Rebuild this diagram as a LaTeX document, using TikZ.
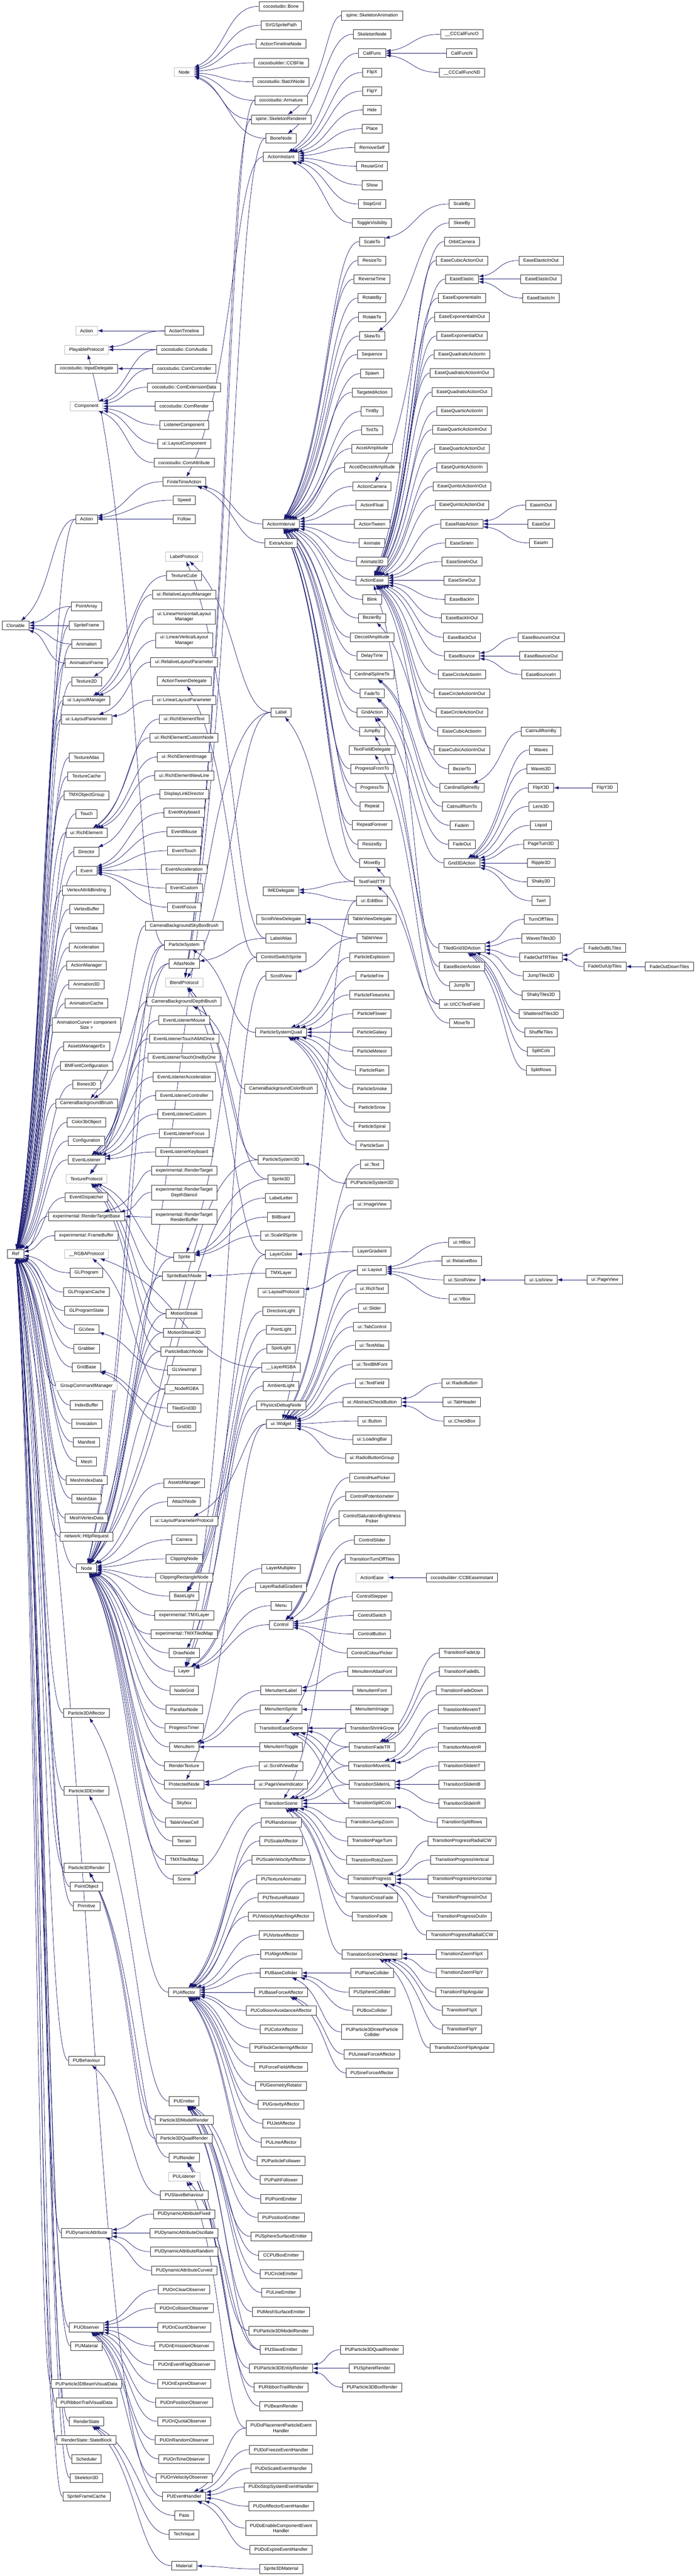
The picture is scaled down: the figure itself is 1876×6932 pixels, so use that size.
\documentclass[tikz,border=0pt]{standalone}
\usepackage{fontspec}
\setmainfont{Liberation Sans}
\usetikzlibrary{arrows.meta}
\definecolor{navy}{HTML}{191970}
\definecolor{graybox}{HTML}{BFBFBF}
\definecolor{boxline}{HTML}{333333}
\newcommand{\dfont}{\fontsize{12.4}{14.4}\selectfont}
\pgfdeclarelayer{bg}
\pgfsetlayers{bg,main}
\tikzset{
 cls/.style={draw=boxline, fill=white, line width=1pt, inner xsep=12pt, inner ysep=1pt, minimum height=24pt, font=\dfont, align=center},
 ucls/.style={cls, draw=graybox},
 two/.style={minimum height=40pt},
 inhs/.style={draw=navy, line width=1pt, {Latex[length=13pt,width=9pt]}-},
}
\def\colA{42}\def\colB{233}\def\colC{496}\def\colD{757}\def\colE{1002}\def\colF{1244}\def\colG{1457}\def\colH{1629}\def\colI{1803}
\newcommand{\kids}[2]{%
 \foreach \kk in {#2}{%
   \path (#1.east); \pgfgetlastxy{\ex}{\ey}%
   \path (\kk.west); \pgfgetlastxy{\wx}{\wy}%
   \pgfmathsetlengthmacro{\mx}{\ex+0.5*(\wx-\ex)}%
   \pgfmathsetlengthmacro{\my}{\ey+0.3*(\wy-\ey)}%
   \draw[inhs] (#1) .. controls (\mx,\my) and (\mx,\wy) .. (\kk.west);
 }}
\begin{document}
\begin{tikzpicture}[x=1pt,y=-1pt]
\useasboundingbox (0,0) rectangle (1876,6932);
\begin{pgfonlayer}{bg}\fill[white] (0,0) rectangle (1876,6932);\end{pgfonlayer}
% ---------- column A
\node[cls] (clonable) at (\colA,1683) {Clonable};
\node[cls] (ref) at (\colA,3374) {Ref};
% ---------- column B
\node[ucls] (actionG) at (\colB,890) {Action};
\node[ucls] (playable) at (\colB,941) {PlayableProtocol};
\node[cls] (inputdel) at (\colB,992) {cocostudio::InputDelegate};
\node[ucls] (componentG) at (\colB,1093) {Component};
\node[cls] (action) at (\colB,1397) {Action};
\node[cls] (pointarray) at (\colB,1632) {PointArray};
\node[cls] (spriteframe) at (\colB,1683) {SpriteFrame};
\node[cls] (animation) at (\colB,1733) {Animation};
\node[cls] (animframe) at (\colB,1784) {AnimationFrame};
\node[cls] (texture2d) at (\colB,1834) {Texture2D};
\node[cls] (layoutmgr) at (\colB,1885) {ui::LayoutManager};
\node[cls] (layoutparam) at (\colB,1936) {ui::LayoutParameter};
\node[cls] (textureatlas) at (\colB,2038) {TextureAtlas};
\node[cls] (texturecache) at (\colB,2089) {TextureCache};
\node[cls] (tmxobjgroup) at (\colB,2140) {TMXObjectGroup};
\node[cls] (touch) at (\colB,2190) {Touch};
\node[cls] (richelement) at (\colB,2241) {ui::RichElement};
\node[cls] (director) at (\colB,2292) {Director};
\node[cls] (event) at (\colB,2343) {Event};
\node[cls] (vab) at (\colB,2396) {VertexAttribBinding};
\node[cls] (vbuffer) at (\colB,2446) {VertexBuffer};
\node[cls] (vdata) at (\colB,2497) {VertexData};
\node[cls] (accel) at (\colB,2549) {Acceleration};
\node[cls] (actionmgr) at (\colB,2598) {ActionManager};
\node[cls] (anim3d) at (\colB,2649) {Animation3D};
\node[cls] (animcache) at (\colB,2700) {AnimationCache};
\node[cls,two] (animcurve) at (\colB,2758) {AnimationCurve< component\\Size >};
\node[cls] (assetsmgrex) at (\colB,2816) {AssetsManagerEx};
\node[cls] (bmfontconf) at (\colB,2868) {BMFontConfiguration};
\node[cls] (bones3d) at (\colB,2918) {Bones3D};
\node[cls] (cambgbrush) at (\colB,2969) {CameraBackgroundBrush};
\node[cls] (color3b) at (\colB,3020) {Color3bObject};
\node[cls] (configuration) at (\colB,3070) {Configuration};
\node[cls] (eventlistener) at (\colB,3121) {EventListener};
\node[ucls] (textureprot) at (\colB,3172) {TextureProtocol};
\node[cls] (eventdispatcher) at (\colB,3222) {EventDispatcher};
\node[cls] (rtbase) at (\colB,3273) {experimental::RenderTargetBase};
\node[cls] (framebuffer) at (\colB,3325) {experimental::FrameBuffer};
\node[ucls] (rgbaprot) at (\colB,3374) {\_\_RGBAProtocol};
\node[cls] (glprogram) at (\colB,3425) {GLProgram};
\node[cls] (glprogcache) at (\colB,3477) {GLProgramCache};
\node[cls] (glprogstate) at (\colB,3527) {GLProgramState};
\node[cls] (glview) at (\colB,3577) {GLView};
\node[cls] (grabber) at (\colB,3629) {Grabber};
\node[cls] (gridbase) at (\colB,3679) {GridBase};
\node[ucls] (groupcmd) at (\colB,3729) {GroupCommandManager};
\node[cls] (indexbuffer) at (\colB,3781) {IndexBuffer};
\node[cls] (invocation) at (\colB,3831) {Invocation};
\node[cls] (manifest) at (\colB,3881) {Manifest};
\node[cls] (mesh) at (\colB,3933) {Mesh};
\node[cls] (meshindex) at (\colB,3983) {MeshIndexData};
\node[cls] (meshskin) at (\colB,4033) {MeshSkin};
\node[cls] (meshvertex) at (\colB,4085) {MeshVertexData};
\node[cls] (httprequest) at (\colB,4135) {network::HttpRequest};
\node[cls] (node) at (\colB,4220) {Node};
\node[cls] (p3daffector) at (\colB,4610) {Particle3DAffector};
\node[cls] (p3demitter) at (\colB,4819) {Particle3DEmitter};
\node[cls] (p3drender) at (\colB,5026) {Particle3DRender};
\node[cls] (pointobject) at (\colB,5077) {PointObject};
\node[cls] (primitive) at (\colB,5129) {Primitive};
\node[cls] (pubehaviour) at (\colB,5545) {PUBehaviour};
\node[cls] (pudynattr) at (\colB,6009) {PUDynamicAttribute};
\node[cls] (puobserver) at (\colB,6263) {PUObserver};
\node[cls] (pumaterial) at (\colB,6313) {PUMaterial};
\node[cls] (pubeamvis) at (\colB,6415) {PUParticle3DBeamVisualData};
\node[cls] (puribbonvis) at (\colB,6465) {PURibbonTrailVisualData};
\node[cls] (renderstate) at (\colB,6516) {RenderState};
\node[cls] (stateblock) at (\colB,6566) {RenderState::StateBlock};
\node[cls] (scheduler) at (\colB,6617) {Scheduler};
\node[cls] (skeleton3d) at (\colB,6668) {Skeleton3D};
\node[cls] (spriteframecache) at (\colB,6718) {SpriteFrameCache};
% ---------- column C
\node[ucls] (nodeG) at (\colC,194) {Node};
\node[cls] (actiontimeline) at (\colC,890) {ActionTimeline};
\node[cls] (comaudio) at (\colC,941) {cocostudio::ComAudio};
\node[cls] (comcontroller) at (\colC,992) {cocostudio::ComController};
\node[cls] (comextdata) at (\colC,1042) {cocostudio::ComExtensionData};
\node[cls] (comrender) at (\colC,1093) {cocostudio::ComRender};
\node[cls] (listenercomp) at (\colC,1144) {ListenerComponent};
\node[cls] (layoutcomp) at (\colC,1194) {ui::LayoutComponent};
\node[cls] (comattribute) at (\colC,1245) {cocostudio::ComAttribute};
\node[cls] (finitetime) at (\colC,1296) {FiniteTimeAction};
\node[cls] (speed) at (\colC,1346) {Speed};
\node[cls] (follow) at (\colC,1397) {Follow};
\node[ucls] (labelprot) at (\colC,1498) {LabelProtocol};
\node[cls] (texturecube) at (\colC,1549) {TextureCube};
\node[cls] (relmgr) at (\colC,1600) {ui::RelativeLayoutManager};
\node[cls,two] (linhmgr) at (\colC,1660) {ui::LinearHorizontalLayout\\Manager};
\node[cls,two] (linvmgr) at (\colC,1723) {ui::LinearVerticalLayout\\Manager};
\node[cls] (relparam) at (\colC,1782) {ui::RelativeLayoutParameter};
\node[cls] (actiontweendel) at (\colC,1833) {ActionTweenDelegate};
\node[cls] (linparam) at (\colC,1884) {ui::LinearLayoutParameter};
\node[cls] (retext) at (\colC,1935) {ui::RichElementText};
\node[cls] (recustom) at (\colC,1985) {ui::RichElementCustomNode};
\node[cls] (reimage) at (\colC,2037) {ui::RichElementImage};
\node[cls] (renewline) at (\colC,2087) {ui::RichElementNewLine};
\node[cls] (displaylink) at (\colC,2137) {DisplayLinkDirector};
\node[cls] (evkeyboard) at (\colC,2187) {EventKeyboard};
\node[cls] (evmouse) at (\colC,2238) {EventMouse};
\node[cls] (evtouch) at (\colC,2289) {EventTouch};
\node[cls] (evaccel) at (\colC,2339) {EventAcceleration};
\node[cls] (evcustom) at (\colC,2390) {EventCustom};
\node[cls] (evfocus) at (\colC,2441) {EventFocus};
\node[cls] (skyboxbrush) at (\colC,2491) {CameraBackgroundSkyBoxBrush};
\node[cls] (particlesystem) at (\colC,2543) {ParticleSystem};
\node[cls] (atlasnode) at (\colC,2593) {AtlasNode};
\node[ucls] (blendprot) at (\colC,2644) {BlendProtocol};
\node[cls] (depthbrush) at (\colC,2695) {CameraBackgroundDepthBrush};
\node[cls] (elmouse) at (\colC,2745) {EventListenerMouse};
\node[cls] (eltouchall) at (\colC,2795) {EventListenerTouchAllAtOnce};
\node[cls] (eltouchone) at (\colC,2846) {EventListenerTouchOneByOne};
\node[cls] (elaccel) at (\colC,2898) {EventListenerAcceleration};
\node[cls] (elcontroller) at (\colC,2948) {EventListenerController};
\node[cls] (elcustom) at (\colC,2998) {EventListenerCustom};
\node[cls] (elfocus) at (\colC,3050) {EventListenerFocus};
\node[cls] (elkeyboard) at (\colC,3100) {EventListenerKeyboard};
\node[cls] (rendertarget) at (\colC,3150) {experimental::RenderTarget};
\node[cls,two] (rtdepth) at (\colC,3209) {experimental::RenderTarget\\DepthStencil};
\node[cls,two] (rtbuffer) at (\colC,3275) {experimental::RenderTarget\\RenderBuffer};
\node[cls] (sprite) at (\colC,3383) {Sprite};
\node[cls] (spritebatch) at (\colC,3434) {SpriteBatchNode};
\node[cls] (motionstreak) at (\colC,3535) {MotionStreak};
\node[cls] (motionstreak3d) at (\colC,3586) {MotionStreak3D};
\node[cls] (particlebatch) at (\colC,3637) {ParticleBatchNode};
\node[cls] (glviewimpl) at (\colC,3687) {GLViewImpl};
\node[cls] (nodergba) at (\colC,3738) {\_\_NodeRGBA};
\node[cls] (tiledgrid3d) at (\colC,3789) {TiledGrid3D};
\node[cls] (grid3d) at (\colC,3839) {Grid3D};
\node[cls] (assetsmgr) at (\colC,3991) {AssetsManager};
\node[cls] (attachnode) at (\colC,4041) {AttachNode};
\node[cls] (layoutparamprot) at (\colC,4093) {ui::LayoutParameterProtocol};
\node[cls] (camera) at (\colC,4143) {Camera};
\node[cls] (clipping) at (\colC,4195) {ClippingNode};
\node[cls] (cliprect) at (\colC,4245) {ClippingRectangleNode};
\node[cls] (baselight) at (\colC,4295) {BaseLight};
\node[cls] (exptmxlayer) at (\colC,4347) {experimental::TMXLayer};
\node[cls] (exptmxmap) at (\colC,4397) {experimental::TMXTiledMap};
\node[cls] (drawnode) at (\colC,4448) {DrawNode};
\node[cls] (layer) at (\colC,4498) {Layer};
\node[cls] (nodegrid) at (\colC,4549) {NodeGrid};
\node[cls] (parallax) at (\colC,4600) {ParallaxNode};
\node[cls] (progresstimer) at (\colC,4650) {ProgressTimer};
\node[cls] (menuitem) at (\colC,4701) {MenuItem};
\node[cls] (rendertexture) at (\colC,4752) {RenderTexture};
\node[cls] (protectednode) at (\colC,4802) {ProtectedNode};
\node[cls] (skybox) at (\colC,4853) {Skybox};
\node[cls] (tableviewcell) at (\colC,4904) {TableViewCell};
\node[cls] (terrain) at (\colC,4954) {Terrain};
\node[cls] (tmxtiledmap) at (\colC,5005) {TMXTiledMap};
\node[cls] (scene) at (\colC,5057) {Scene};
\node[cls] (puaffector) at (\colC,5361) {PUAffector};
\node[cls] (puemitter) at (\colC,5654) {PUEmitter};
\node[cls] (p3dmodelrender) at (\colC,5705) {Particle3DModelRender};
\node[cls] (p3dquadrender) at (\colC,5755) {Particle3DQuadRender};
\node[cls] (purender) at (\colC,5806) {PURender};
\node[ucls] (pulistener) at (\colC,5857) {PUListener};
\node[cls] (puslavebeh) at (\colC,5907) {PUSlaveBehaviour};
\node[cls] (pudafixed) at (\colC,5958) {PUDynamicAttributeFixed};
\node[cls] (pudaosc) at (\colC,6009) {PUDynamicAttributeOscillate};
\node[cls] (pudarandom) at (\colC,6059) {PUDynamicAttributeRandom};
\node[cls] (pudacurved) at (\colC,6110) {PUDynamicAttributeCurved};
\node[cls] (puonclear) at (\colC,6161) {PUOnClearObserver};
\node[cls] (puoncollision) at (\colC,6211) {PUOnCollisionObserver};
\node[cls] (puoncount) at (\colC,6263) {PUOnCountObserver};
\node[cls] (puonemission) at (\colC,6313) {PUOnEmissionObserver};
\node[cls] (puoneventflag) at (\colC,6364) {PUOnEventFlagObserver};
\node[cls] (puonexpire) at (\colC,6415) {PUOnExpireObserver};
\node[cls] (puonposition) at (\colC,6465) {PUOnPositionObserver};
\node[cls] (puonquota) at (\colC,6516) {PUOnQuotaObserver};
\node[cls] (puonrandom) at (\colC,6566) {PUOnRandomObserver};
\node[cls] (puontime) at (\colC,6617) {PUOnTimeObserver};
\node[cls] (puonvelocity) at (\colC,6668) {PUOnVelocityObserver};
\node[cls] (pueventhandler) at (\colC,6718) {PUEventHandler};
\node[cls] (pass) at (\colC,6769) {Pass};
\node[cls] (technique) at (\colC,6820) {Technique};
\node[cls] (material) at (\colC,6904) {Material};
% ---------- column D
\node[cls] (bone) at (\colD,17) {cocostudio::Bone};
\node[cls] (svgsprite) at (\colD,68) {SVGSpritePath};
\node[cls] (atlnode) at (\colD,118) {ActionTimelineNode};
\node[cls] (ccbfile) at (\colD,169) {cocosbuilder::CCBFile};
\node[cls] (batchnodecs) at (\colD,220) {cocostudio::BatchNode};
\node[cls] (armature) at (\colD,270) {cocostudio::Armature};
\node[cls] (skelrenderer) at (\colD,321) {spine::SkeletonRenderer};
\node[cls] (bonenode) at (\colD,372) {BoneNode};
\node[cls] (actioninstant) at (\colD,422) {ActionInstant};
\node[cls] (actioninterval) at (\colD,1410) {ActionInterval};
\node[cls] (extraaction) at (\colD,1461) {ExtraAction};
\node[cls] (label) at (\colD,1917) {Label};
\node[cls] (imedelegate) at (\colD,2398) {IMEDelegate};
\node[cls] (svdelegate) at (\colD,2474) {ScrollViewDelegate};
\node[cls] (labelatlas) at (\colD,2525) {LabelAtlas};
\node[cls] (ctrlswitchsprite) at (\colD,2576) {ControlSwitchSprite};
\node[cls] (scrollview) at (\colD,2626) {ScrollView};
\node[cls] (psquad) at (\colD,2778) {ParticleSystemQuad};
\node[cls] (colorbrush) at (\colD,2930) {CameraBackgroundColorBrush};
\node[cls] (ps3d) at (\colD,3121) {ParticleSystem3D};
\node[cls] (sprite3d) at (\colD,3173) {Sprite3D};
\node[cls] (labelletter) at (\colD,3224) {LabelLetter};
\node[cls] (billboard) at (\colD,3275) {BillBoard};
\node[cls] (scale9) at (\colD,3325) {ui::Scale9Sprite};
\node[cls] (layercolor) at (\colD,3376) {LayerColor};
\node[cls] (tmxlayer) at (\colD,3426) {TMXLayer};
\node[cls] (layoutprot) at (\colD,3478) {ui::LayoutProtocol};
\node[cls] (dirlight) at (\colD,3528) {DirectionLight};
\node[cls] (pointlight) at (\colD,3578) {PointLight};
\node[cls] (spotlight) at (\colD,3629) {SpotLight};
\node[cls] (layerrgba) at (\colD,3680) {\_\_LayerRGBA};
\node[cls] (ambientlight) at (\colD,3730) {AmbientLight};
\node[cls] (physdebug) at (\colD,3782) {PhysicsDebugNode};
\node[cls] (widget) at (\colD,3832) {ui::Widget};
\node[cls] (layermultiplex) at (\colD,4221) {LayerMultiplex};
\node[cls] (layerradial) at (\colD,4271) {LayerRadialGradient};
\node[cls] (menu) at (\colD,4321) {Menu};
\node[cls] (control) at (\colD,4372) {Control};
\node[cls] (menuitemlabel) at (\colD,4549) {MenuItemLabel};
\node[cls] (menuitemsprite) at (\colD,4600) {MenuItemSprite};
\node[cls] (transeasescene) at (\colD,4650) {TransitionEaseScene};
\node[cls] (menuitemtoggle) at (\colD,4701) {MenuItemToggle};
\node[cls] (scrollviewbar) at (\colD,4752) {ui::ScrollViewBar};
\node[cls] (pageviewind) at (\colD,4802) {ui::PageViewIndicator};
\node[cls] (transscene) at (\colD,4853) {TransitionScene};
\node[cls] (purandomiser) at (\colD,4904) {PURandomiser};
\node[cls] (puscaleaff) at (\colD,4954) {PUScaleAffector};
\node[cls] (puscalevel) at (\colD,5005) {PUScaleVelocityAffector};
\node[cls] (putexanim) at (\colD,5057) {PUTextureAnimator};
\node[cls] (putexrot) at (\colD,5106) {PUTextureRotator};
\node[cls] (puvelmatch) at (\colD,5157) {PUVelocityMatchingAffector};
\node[cls] (puvortex) at (\colD,5207) {PUVortexAffector};
\node[cls] (pualign) at (\colD,5259) {PUAlignAffector};
\node[cls] (pubasecollider) at (\colD,5309) {PUBaseCollider};
\node[cls] (pubaseforce) at (\colD,5361) {PUBaseForceAffector};
\node[cls] (pucollavoid) at (\colD,5410) {PUCollisionAvoidanceAffector};
\node[cls] (pucolor) at (\colD,5461) {PUColorAffector};
\node[cls] (puflock) at (\colD,5511) {PUFlockCenteringAffector};
\node[cls] (puforcefield) at (\colD,5562) {PUForceFieldAffector};
\node[cls] (pugeomrot) at (\colD,5613) {PUGeometryRotator};
\node[cls] (pugravity) at (\colD,5663) {PUGravityAffector};
\node[cls] (pujet) at (\colD,5714) {PUJetAffector};
\node[cls] (puline) at (\colD,5765) {PULineAffector};
\node[cls] (pufollower) at (\colD,5815) {PUParticleFollower};
\node[cls] (pupath) at (\colD,5866) {PUPathFollower};
\node[cls] (pupointem) at (\colD,5917) {PUPointEmitter};
\node[cls] (puposem) at (\colD,5967) {PUPositionEmitter};
\node[cls] (pusphereem) at (\colD,6018) {PUSphereSurfaceEmitter};
\node[cls] (ccpubox) at (\colD,6069) {CCPUBoxEmitter};
\node[cls] (pucircleem) at (\colD,6119) {PUCircleEmitter};
\node[cls] (pulineem) at (\colD,6169) {PULineEmitter};
\node[cls] (pumeshem) at (\colD,6221) {PUMeshSurfaceEmitter};
\node[cls] (pumodelrender) at (\colD,6272) {PUParticle3DModelRender};
\node[cls] (puslaveem) at (\colD,6323) {PUSlaveEmitter};
\node[cls] (puentityrender) at (\colD,6373) {PUParticle3DEntityRender};
\node[cls] (puribbonrender) at (\colD,6424) {PURibbonTrailRender};
\node[cls] (pubeamrender) at (\colD,6475) {PUBeamRender};
\node[cls,two] (pudoplacement) at (\colD,6534) {PUDoPlacementParticleEvent\\Handler};
\node[cls] (pudofreeze) at (\colD,6592) {PUDoFreezeEventHandler};
\node[cls] (pudoscale) at (\colD,6642) {PUDoScaleEventHandler};
\node[cls] (pudostop) at (\colD,6693) {PUDoStopSystemEventHandler};
\node[cls] (pudoaffector) at (\colD,6744) {PUDoAffectorEventHandler};
\node[cls,two] (pudoenable) at (\colD,6803) {PUDoEnableComponentEvent\\Handler};
\node[cls] (pudoexpire) at (\colD,6861) {PUDoExpireEventHandler};
\node[cls] (sprite3dmat) at (\colD,6913) {Sprite3DMaterial};
% ---------- column E
\node[cls] (skelanim) at (\colE,42) {spine::SkeletonAnimation};
\node[cls] (skelnode) at (\colE,92) {SkeletonNode};
\node[cls] (callfunc) at (\colE,143) {CallFunc};
\node[cls] (flipx) at (\colE,195) {FlipX};
\node[cls] (flipy) at (\colE,245) {FlipY};
\node[cls] (hide) at (\colE,296) {Hide};
\node[cls] (place) at (\colE,346) {Place};
\node[cls] (removeself) at (\colE,397) {RemoveSelf};
\node[cls] (reusegrid) at (\colE,447) {ReuseGrid};
\node[cls] (show) at (\colE,498) {Show};
\node[cls] (stopgrid) at (\colE,549) {StopGrid};
\node[cls] (togglevis) at (\colE,600) {ToggleVisibility};
\node[cls] (scaleto) at (\colE,650) {ScaleTo};
\node[cls] (resizeto) at (\colE,701) {ResizeTo};
\node[cls] (reversetime) at (\colE,751) {ReverseTime};
\node[cls] (rotateby) at (\colE,802) {RotateBy};
\node[cls] (rotateto) at (\colE,853) {RotateTo};
\node[cls] (skewto) at (\colE,904) {SkewTo};
\node[cls] (sequence) at (\colE,954) {Sequence};
\node[cls] (spawn) at (\colE,1005) {Spawn};
\node[cls] (targeted) at (\colE,1056) {TargetedAction};
\node[cls] (tintby) at (\colE,1107) {TintBy};
\node[cls] (tintto) at (\colE,1157) {TintTo};
\node[cls] (accelamp) at (\colE,1207) {AccelAmplitude};
\node[cls] (acceldeccel) at (\colE,1258) {AccelDeccelAmplitude};
\node[cls] (actioncamera) at (\colE,1309) {ActionCamera};
\node[cls] (actionfloat) at (\colE,1359) {ActionFloat};
\node[cls] (actiontween) at (\colE,1410) {ActionTween};
\node[cls] (animate) at (\colE,1461) {Animate};
\node[cls] (animate3d) at (\colE,1511) {Animate3D};
\node[cls] (actionease) at (\colE,1562) {ActionEase};
\node[cls] (blink) at (\colE,1613) {Blink};
\node[cls] (bezierby) at (\colE,1663) {BezierBy};
\node[cls] (deccelamp) at (\colE,1715) {DeccelAmplitude};
\node[cls] (delaytime) at (\colE,1765) {DelayTime};
\node[cls] (cardinalto) at (\colE,1815) {CardinalSplineTo};
\node[cls] (fadeto) at (\colE,1866) {FadeTo};
\node[cls] (gridaction) at (\colE,1917) {GridAction};
\node[cls] (jumpby) at (\colE,1968) {JumpBy};
\node[cls] (textfielddel) at (\colE,2018) {TextFieldDelegate};
\node[cls] (progressfromto) at (\colE,2069) {ProgressFromTo};
\node[cls] (progressto) at (\colE,2120) {ProgressTo};
\node[cls] (repeat) at (\colE,2170) {Repeat};
\node[cls] (repeatforever) at (\colE,2220) {RepeatForever};
\node[cls] (resizeby) at (\colE,2272) {ResizeBy};
\node[cls] (moveby) at (\colE,2322) {MoveBy};
\node[cls] (textfieldttf) at (\colE,2372) {TextFieldTTF};
\node[cls] (editbox) at (\colE,2424) {ui::EditBox};
\node[cls] (tvdelegate) at (\colE,2474) {TableViewDelegate};
\node[cls] (tableview) at (\colE,2524) {TableView};
\node[cls] (pexplosion) at (\colE,2576) {ParticleExplosion};
\node[cls] (pfire) at (\colE,2626) {ParticleFire};
\node[cls] (pfireworks) at (\colE,2677) {ParticleFireworks};
\node[cls] (pflower) at (\colE,2728) {ParticleFlower};
\node[cls] (pgalaxy) at (\colE,2778) {ParticleGalaxy};
\node[cls] (pmeteor) at (\colE,2829) {ParticleMeteor};
\node[cls] (prain) at (\colE,2880) {ParticleRain};
\node[cls] (psmoke) at (\colE,2930) {ParticleSmoke};
\node[cls] (psnow) at (\colE,2980) {ParticleSnow};
\node[cls] (pspiral) at (\colE,3032) {ParticleSpiral};
\node[cls] (psun) at (\colE,3082) {ParticleSun};
\node[cls] (uitext) at (\colE,3133) {ui::Text};
\node[cls] (pups3d) at (\colE,3184) {PUParticleSystem3D};
\node[cls] (imageview) at (\colE,3241) {ui::ImageView};
\node[cls] (layergradient) at (\colE,3368) {LayerGradient};
\node[cls] (uilayout) at (\colE,3418) {ui::Layout};
\node[cls] (richtext) at (\colE,3468) {ui::RichText};
\node[cls] (slider) at (\colE,3520) {ui::Slider};
\node[cls] (tabcontrol) at (\colE,3570) {ui::TabControl};
\node[cls] (textatlas) at (\colE,3620) {ui::TextAtlas};
\node[cls] (textbmfont) at (\colE,3672) {ui::TextBMFont};
\node[cls] (uitextfield) at (\colE,3722) {ui::TextField};
\node[cls] (abscheck) at (\colE,3773) {ui::AbstractCheckButton};
\node[cls] (button) at (\colE,3824) {ui::Button};
\node[cls] (loadingbar) at (\colE,3874) {ui::LoadingBar};
\node[cls] (radiogroup) at (\colE,3924) {ui::RadioButtonGroup};
\node[cls] (huepicker) at (\colE,3976) {ControlHuePicker};
\node[cls] (potentiometer) at (\colE,4026) {ControlPotentiometer};
\node[cls,two] (satbright) at (\colE,4086) {ControlSaturationBrightness\\Picker};
\node[cls] (ctrlslider) at (\colE,4144) {ControlSlider};
\node[cls] (turnofftiles) at (\colE,4195) {TransitionTurnOffTiles};
\node[ucls] (actioneaseG) at (\colE,4245) {ActionEase};
\node[cls] (stepper) at (\colE,4296) {ControlStepper};
\node[cls] (ctrlswitch) at (\colE,4347) {ControlSwitch};
\node[cls] (ctrlbutton) at (\colE,4397) {ControlButton};
\node[cls] (colourpicker) at (\colE,4448) {ControlColourPicker};
\node[cls] (miatlasfont) at (\colE,4498) {MenuItemAtlasFont};
\node[cls] (mifont) at (\colE,4549) {MenuItemFont};
\node[cls] (miimage) at (\colE,4600) {MenuItemImage};
\node[cls] (shrinkgrow) at (\colE,4650) {TransitionShrinkGrow};
\node[cls] (fadetr) at (\colE,4701) {TransitionFadeTR};
\node[cls] (moveinl) at (\colE,4752) {TransitionMoveInL};
\node[cls] (slideinl) at (\colE,4802) {TransitionSlideInL};
\node[cls] (splitcols) at (\colE,4853) {TransitionSplitCols};
\node[cls] (jumpzoom) at (\colE,4904) {TransitionJumpZoom};
\node[cls] (pageturn) at (\colE,4954) {TransitionPageTurn};
\node[cls] (rotozoom) at (\colE,5005) {TransitionRotoZoom};
\node[cls] (tprogress) at (\colE,5057) {TransitionProgress};
\node[cls] (crossfade) at (\colE,5106) {TransitionCrossFade};
\node[cls] (tfade) at (\colE,5157) {TransitionFade};
\node[cls] (sceneoriented) at (\colE,5259) {TransitionSceneOriented};
\node[cls] (puplane) at (\colE,5309) {PUPlaneCollider};
\node[cls] (pusphere) at (\colE,5361) {PUSphereCollider};
\node[cls] (pubox) at (\colE,5410) {PUBoxCollider};
\node[cls,two] (puinter) at (\colE,5468) {PUParticle3DInterParticle\\Collider};
\node[cls] (pulinearforce) at (\colE,5528) {PULinearForceAffector};
\node[cls] (pusineforce) at (\colE,5578) {PUSineForceAffector};
\node[cls] (puquadrender) at (\colE,6323) {PUParticle3DQuadRender};
\node[cls] (puspherrender) at (\colE,6373) {PUSphereRender};
\node[cls] (puboxrender) at (\colE,6424) {PUParticle3DBoxRender};
% ---------- column F
\node[cls] (callfunco) at (\colF,92) {\_\_CCCallFuncO};
\node[cls] (callfuncn) at (\colF,143) {CallFuncN};
\node[cls] (callfuncnd) at (\colF,195) {\_\_CCCallFuncND};
\node[cls] (scaleby) at (\colF,549) {ScaleBy};
\node[cls] (skewby) at (\colF,600) {SkewBy};
\node[cls] (orbitcamera) at (\colF,650) {OrbitCamera};
\node[cls] (ecubicout) at (\colF,701) {EaseCubicActionOut};
\node[cls] (eelastic) at (\colF,751) {EaseElastic};
\node[cls] (eexpin) at (\colF,802) {EaseExponentialIn};
\node[cls] (eexpinout) at (\colF,853) {EaseExponentialInOut};
\node[cls] (eexpout) at (\colF,904) {EaseExponentialOut};
\node[cls] (equadin) at (\colF,954) {EaseQuadraticActionIn};
\node[cls] (equadinout) at (\colF,1004) {EaseQuadraticActionInOut};
\node[cls] (equadout) at (\colF,1055) {EaseQuadraticActionOut};
\node[cls] (equartin) at (\colF,1106) {EaseQuarticActionIn};
\node[cls] (equartinout) at (\colF,1156) {EaseQuarticActionInOut};
\node[cls] (equartout) at (\colF,1207) {EaseQuarticActionOut};
\node[cls] (equintin) at (\colF,1258) {EaseQuinticActionIn};
\node[cls] (equintinout) at (\colF,1309) {EaseQuinticActionInOut};
\node[cls] (equintout) at (\colF,1359) {EaseQuinticActionOut};
\node[cls] (erate) at (\colF,1410) {EaseRateAction};
\node[cls] (esinein) at (\colF,1461) {EaseSineIn};
\node[cls] (esineinout) at (\colF,1511) {EaseSineInOut};
\node[cls] (esineout) at (\colF,1562) {EaseSineOut};
\node[cls] (ebackin) at (\colF,1613) {EaseBackIn};
\node[cls] (ebackinout) at (\colF,1663) {EaseBackInOut};
\node[cls] (ebackout) at (\colF,1715) {EaseBackOut};
\node[cls] (ebounce) at (\colF,1765) {EaseBounce};
\node[cls] (ecirclein) at (\colF,1815) {EaseCircleActionIn};
\node[cls] (ecircleinout) at (\colF,1866) {EaseCircleActionInOut};
\node[cls] (ecircleout) at (\colF,1917) {EaseCircleActionOut};
\node[cls] (ecubicin) at (\colF,1968) {EaseCubicActionIn};
\node[cls] (ecubicinout) at (\colF,2018) {EaseCubicActionInOut};
\node[cls] (bezierto) at (\colF,2069) {BezierTo};
\node[cls] (cardinalby) at (\colF,2120) {CardinalSplineBy};
\node[cls] (catmullto) at (\colF,2170) {CatmullRomTo};
\node[cls] (fadein) at (\colF,2221) {FadeIn};
\node[cls] (fadeout) at (\colF,2272) {FadeOut};
\node[cls] (grid3daction) at (\colF,2322) {Grid3DAction};
\node[cls] (tiledgrid3daction) at (\colF,2551) {TiledGrid3DAction};
\node[cls] (ebezier) at (\colF,2601) {EaseBezierAction};
\node[cls] (jumpto) at (\colF,2653) {JumpTo};
\node[cls] (uicctextfield) at (\colF,2702) {ui::UICCTextField};
\node[cls] (moveto) at (\colF,2753) {MoveTo};
\node[cls] (hbox) at (\colF,3343) {ui::HBox};
\node[cls] (relativebox) at (\colF,3393) {ui::RelativeBox};
\node[cls] (uiscrollview) at (\colF,3444) {ui::ScrollView};
\node[cls] (vbox) at (\colF,3495) {ui::VBox};
\node[cls] (radiobutton) at (\colF,3722) {ui::RadioButton};
\node[cls] (tabheader) at (\colF,3773) {ui::TabHeader};
\node[cls] (checkbox) at (\colF,3824) {ui::CheckBox};
\node[cls] (ccbeaseinstant) at (\colF,4245) {cocosbuilder::CCBEaseInstant};
\node[cls] (fadeup) at (\colF,4448) {TransitionFadeUp};
\node[cls] (fadebl) at (\colF,4498) {TransitionFadeBL};
\node[cls] (fadedown) at (\colF,4549) {TransitionFadeDown};
\node[cls] (moveint) at (\colF,4600) {TransitionMoveInT};
\node[cls] (moveinb) at (\colF,4650) {TransitionMoveInB};
\node[cls] (moveinr) at (\colF,4701) {TransitionMoveInR};
\node[cls] (slideint) at (\colF,4752) {TransitionSlideInT};
\node[cls] (slideinb) at (\colF,4802) {TransitionSlideInB};
\node[cls] (slideinr) at (\colF,4853) {TransitionSlideInR};
\node[cls] (splitrows) at (\colF,4904) {TransitionSplitRows};
\node[cls] (radialcw) at (\colF,4954) {TransitionProgressRadialCW};
\node[cls] (progvertical) at (\colF,5005) {TransitionProgressVertical};
\node[cls] (proghorizontal) at (\colF,5057) {TransitionProgressHorizontal};
\node[cls] (proginout) at (\colF,5106) {TransitionProgressInOut};
\node[cls] (progoutin) at (\colF,5157) {TransitionProgressOutIn};
\node[cls] (radialccw) at (\colF,5207) {TransitionProgressRadialCCW};
\node[cls] (zoomflipx) at (\colF,5259) {TransitionZoomFlipX};
\node[cls] (zoomflipy) at (\colF,5309) {TransitionZoomFlipY};
\node[cls] (flipangular) at (\colF,5361) {TransitionFlipAngular};
\node[cls] (tflipx) at (\colF,5410) {TransitionFlipX};
\node[cls] (tflipy) at (\colF,5461) {TransitionFlipY};
\node[cls] (zoomflipangular) at (\colF,5511) {TransitionZoomFlipAngular};
% ---------- column G
\node[cls] (eelasticinout) at (\colG,701) {EaseElasticInOut};
\node[cls] (eelasticout) at (\colG,751) {EaseElasticOut};
\node[cls] (eelasticin) at (\colG,802) {EaseElasticIn};
\node[cls] (einout) at (\colG,1359) {EaseInOut};
\node[cls] (eout) at (\colG,1410) {EaseOut};
\node[cls] (ein) at (\colG,1461) {EaseIn};
\node[cls] (ebounceinout) at (\colG,1715) {EaseBounceInOut};
\node[cls] (ebounceout) at (\colG,1765) {EaseBounceOut};
\node[cls] (ebouncein) at (\colG,1815) {EaseBounceIn};
\node[cls] (catmullby) at (\colG,1968) {CatmullRomBy};
\node[cls] (waves) at (\colG,2018) {Waves};
\node[cls] (waves3d) at (\colG,2069) {Waves3D};
\node[cls] (flipx3d) at (\colG,2120) {FlipX3D};
\node[cls] (lens3d) at (\colG,2170) {Lens3D};
\node[cls] (liquid) at (\colG,2221) {Liquid};
\node[cls] (pageturn3d) at (\colG,2272) {PageTurn3D};
\node[cls] (ripple3d) at (\colG,2322) {Ripple3D};
\node[cls] (shaky3d) at (\colG,2373) {Shaky3D};
\node[cls] (twirl) at (\colG,2424) {Twirl};
\node[cls] (turnofftilesT) at (\colG,2474) {TurnOffTiles};
\node[cls] (wavestiles3d) at (\colG,2525) {WavesTiles3D};
\node[cls] (fadeouttr) at (\colG,2576) {FadeOutTRTiles};
\node[cls] (jumptiles3d) at (\colG,2626) {JumpTiles3D};
\node[cls] (shakytiles3d) at (\colG,2678) {ShakyTiles3D};
\node[cls] (shatteredtiles3d) at (\colG,2728) {ShatteredTiles3D};
\node[cls] (shuffletiles) at (\colG,2778) {ShuffleTiles};
\node[cls] (splitcolsT) at (\colG,2829) {SplitCols};
\node[cls] (splitrowsT) at (\colG,2880) {SplitRows};
\node[cls] (listview) at (\colG,3444) {ui::ListView};
% ---------- columns H, I
\node[cls] (flipy3d) at (\colH,2120) {FlipY3D};
\node[cls] (fadeoutbl) at (\colH,2551) {FadeOutBLTiles};
\node[cls] (fadeoutup) at (\colH,2601) {FadeOutUpTiles};
\node[cls] (pageview) at (\colH,3444) {ui::PageView};
\node[cls] (fadeoutdown) at (\colI,2601) {FadeOutDownTiles};
% ================= edges
\begin{pgfonlayer}{bg}
\kids{ref}{action,pointarray,spriteframe,animation,animframe,texture2d,layoutmgr,layoutparam,textureatlas,texturecache,tmxobjgroup,touch,richelement,director,event,vab,vbuffer,vdata,accel,actionmgr,anim3d,animcache,animcurve,assetsmgrex,bmfontconf,bones3d,cambgbrush,color3b,configuration,eventlistener,eventdispatcher,rtbase,framebuffer,glprogram,glprogcache,glprogstate,glview,grabber,gridbase,groupcmd,indexbuffer,invocation,manifest,mesh,meshindex,meshskin,meshvertex,httprequest,node,p3daffector,p3demitter,p3drender,pointobject,primitive,pubehaviour,pudynattr,puobserver,pumaterial,pubeamvis,puribbonvis,renderstate,stateblock,scheduler,skeleton3d,spriteframecache,pueventhandler}
\kids{clonable}{action,pointarray,spriteframe,animation,animframe}
\kids{actionG}{actiontimeline}
\kids{playable}{actiontimeline,comaudio,particlesystem}
\kids{inputdel}{comcontroller}
\kids{componentG}{comaudio,comcontroller,comextdata,comrender,listenercomp,layoutcomp,comattribute}
\kids{action}{finitetime,speed,follow}
\kids{finitetime}{actioninstant,actioninterval,extraaction}
\kids{nodeG}{bone,svgsprite,atlnode,ccbfile,batchnodecs,armature,skelrenderer,bonenode}
\kids{blendprot}{armature,skelrenderer,bonenode,label,ps3d,sprite3d,layercolor}
\kids{skelrenderer}{skelanim}
\kids{bonenode}{skelnode}
\kids{actioninstant}{callfunc,flipx,flipy,hide,place,removeself,reusegrid,show,stopgrid,togglevis}
\kids{callfunc}{callfunco,callfuncn,callfuncnd}
\kids{actioninterval}{scaleto,resizeto,reversetime,rotateby,rotateto,skewto,sequence,spawn,targeted,tintby,tintto,accelamp,acceldeccel,actioncamera,actionfloat,actiontween,animate,animate3d,actionease,blink,bezierby,deccelamp,delaytime,cardinalto,fadeto,gridaction,jumpby,progressfromto,progressto,repeat,repeatforever,resizeby,moveby}
\kids{scaleto}{scaleby}
\kids{skewto}{skewby}
\kids{actioncamera}{orbitcamera}
\kids{actionease}{ecubicout,eelastic,eexpin,eexpinout,eexpout,equadin,equadinout,equadout,equartin,equartinout,equartout,equintin,equintinout,equintout,erate,esinein,esineinout,esineout,ebackin,ebackinout,ebackout,ebounce,ecirclein,ecircleinout,ecircleout,ecubicin,ecubicinout,ebezier}
\kids{eelastic}{eelasticinout,eelasticout,eelasticin}
\kids{erate}{einout,eout,ein}
\kids{ebounce}{ebounceinout,ebounceout,ebouncein}
\kids{bezierby}{bezierto}
\kids{cardinalto}{cardinalby,catmullto}
\kids{cardinalby}{catmullby}
\kids{fadeto}{fadein,fadeout}
\kids{gridaction}{grid3daction,tiledgrid3daction}
\kids{grid3daction}{waves,waves3d,flipx3d,lens3d,liquid,pageturn3d,ripple3d,shaky3d,twirl}
\kids{flipx3d}{flipy3d}
\kids{tiledgrid3daction}{turnofftilesT,wavestiles3d,fadeouttr,jumptiles3d,shakytiles3d,shatteredtiles3d,shuffletiles,splitcolsT,splitrowsT}
\kids{fadeouttr}{fadeoutbl,fadeoutup}
\kids{fadeoutup}{fadeoutdown}
\kids{jumpby}{jumpto}
\kids{moveby}{moveto}
\kids{textfieldttf}{uicctextfield}
\kids{textfielddel}{uicctextfield}
\kids{label}{textfieldttf}
\kids{imedelegate}{textfieldttf,editbox}
\kids{widget}{editbox,uitext,imageview,uilayout,richtext,slider,tabcontrol,textatlas,textbmfont,uitextfield,abscheck,button,loadingbar,radiogroup}
\kids{svdelegate}{tvdelegate,tableview}
\kids{scrollview}{tableview}
\kids{psquad}{pexplosion,pfire,pfireworks,pflower,pgalaxy,pmeteor,prain,psmoke,psnow,pspiral,psun}
\kids{particlesystem}{psquad}
\kids{labelprot}{label,labelatlas}
\kids{texture2d}{texturecube}
\kids{layoutmgr}{relmgr,linhmgr,linvmgr}
\kids{layoutparam}{relparam,linparam}
\kids{richelement}{retext,recustom,reimage,renewline}
\kids{director}{displaylink}
\kids{event}{evkeyboard,evmouse,evtouch,evaccel,evcustom,evfocus}
\kids{cambgbrush}{skyboxbrush,depthbrush}
\kids{depthbrush}{colorbrush}
\kids{textureprot}{particlesystem,atlasnode,sprite,spritebatch,motionstreak,motionstreak3d,particlebatch}
\kids{node}{particlesystem,atlasnode,sprite,spritebatch,motionstreak,motionstreak3d,particlebatch,nodergba,assetsmgr,attachnode,camera,clipping,cliprect,baselight,exptmxlayer,exptmxmap,drawnode,layer,nodegrid,parallax,progresstimer,menuitem,rendertexture,protectednode,skybox,tableviewcell,terrain,tmxtiledmap,scene,ps3d,sprite3d,label}
\kids{atlasnode}{labelatlas}
\kids{sprite}{ctrlswitchsprite,labelletter,billboard,scale9}
\kids{actiontweendel}{ctrlswitchsprite}
\kids{eventlistener}{elmouse,eltouchall,eltouchone,elaccel,elcontroller,elcustom,elfocus,elkeyboard}
\kids{rtbase}{rendertarget,rtdepth,rtbuffer}
\kids{glview}{glviewimpl}
\kids{rgbaprot}{nodergba,layerrgba}
\kids{gridbase}{tiledgrid3d,grid3d}
\kids{layer}{scrollview,layercolor,layerrgba,layermultiplex,layerradial,menu,control}
\kids{spritebatch}{tmxlayer}
\kids{baselight}{dirlight,pointlight,spotlight,ambientlight}
\kids{drawnode}{physdebug}
\kids{protectednode}{widget,scrollviewbar,pageviewind}
\kids{layoutparamprot}{widget}
\kids{menuitem}{menuitemlabel,menuitemsprite,menuitemtoggle}
\kids{scene}{transscene}
\kids{ps3d}{pups3d}
\kids{layercolor}{layergradient}
\kids{layoutprot}{uilayout}
\kids{uilayout}{hbox,relativebox,uiscrollview,vbox}
\kids{uiscrollview}{listview}
\kids{listview}{pageview}
\kids{abscheck}{radiobutton,tabheader,checkbox}
\kids{control}{huepicker,potentiometer,satbright,ctrlslider,stepper,ctrlswitch,ctrlbutton,colourpicker}
\kids{transscene}{turnofftiles,shrinkgrow,fadetr,moveinl,slideinl,splitcols,jumpzoom,pageturn,rotozoom,tprogress,crossfade,tfade,sceneoriented}
\kids{transeasescene}{turnofftiles,shrinkgrow,fadetr,moveinl,slideinl,splitcols}
\kids{actioneaseG}{ccbeaseinstant}
\kids{menuitemlabel}{miatlasfont,mifont}
\kids{menuitemsprite}{miimage}
\kids{fadetr}{fadeup,fadebl,fadedown}
\kids{moveinl}{moveint,moveinb,moveinr}
\kids{slideinl}{slideint,slideinb,slideinr}
\kids{splitcols}{splitrows}
\kids{tprogress}{radialcw,progvertical,proghorizontal,proginout,progoutin,radialccw}
\kids{sceneoriented}{zoomflipx,zoomflipy,flipangular,tflipx,tflipy,zoomflipangular}
\kids{puaffector}{purandomiser,puscaleaff,puscalevel,putexanim,putexrot,puvelmatch,puvortex,pualign,pubasecollider,pubaseforce,pucollavoid,pucolor,puflock,puforcefield,pugeomrot,pugravity,pujet,puline,pufollower,pupath}
\kids{pubasecollider}{puplane,pusphere,pubox,puinter}
\kids{pubaseforce}{pulinearforce,pusineforce}
\kids{puemitter}{pupointem,puposem,pusphereem,ccpubox,pucircleem,pulineem,pumeshem,puslaveem}
\kids{purender}{pumodelrender,puentityrender,puribbonrender,pubeamrender}
\kids{pulistener}{puslaveem,pudoplacement}
\kids{puentityrender}{puquadrender,puspherrender,puboxrender}
\kids{p3daffector}{puaffector}
\kids{p3demitter}{puemitter}
\kids{p3drender}{p3dmodelrender,p3dquadrender,purender}
\kids{pubehaviour}{puslavebeh}
\kids{pudynattr}{pudafixed,pudaosc,pudarandom,pudacurved}
\kids{puobserver}{puonclear,puoncollision,puoncount,puonemission,puoneventflag,puonexpire,puonposition,puonquota,puonrandom,puontime,puonvelocity}
\kids{pueventhandler}{pudoplacement,pudofreeze,pudoscale,pudostop,pudoaffector,pudoenable,pudoexpire}
\kids{renderstate}{pass,technique,material}
\kids{material}{sprite3dmat}
\end{pgfonlayer}
\end{tikzpicture}
\end{document}
